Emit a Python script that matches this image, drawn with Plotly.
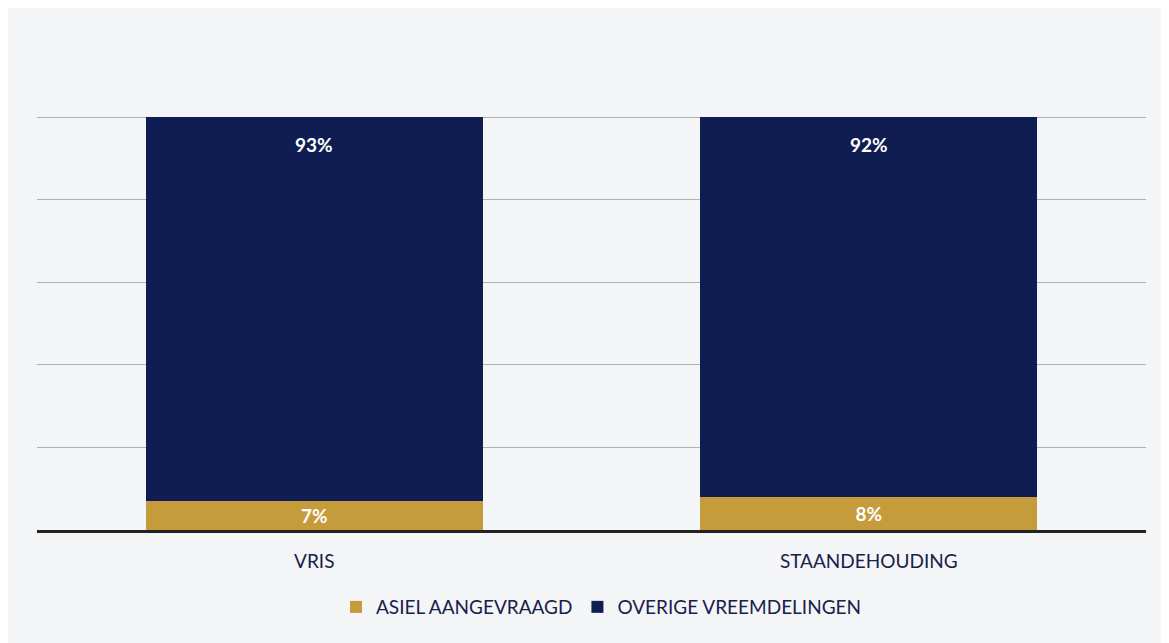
import plotly.graph_objects as go

categories = ["VRIS", "STAANDEHOUDING"]
asiel = [7, 8]
overige = [93, 92]
series_names = ["ASIEL AANGEVRAAGD", "OVERIGE VREEMDELINGEN"]

navy = "#101d52"
gold = "#c59b3b"
text_dark = "#18214a"
font_family = "Lato, 'Open Sans', sans-serif"

fig = go.Figure()
fig.add_trace(go.Bar(
    x=categories, y=asiel, name=series_names[0],
    marker=dict(color=gold, line=dict(width=0)),
    text=[f"{v}%" for v in asiel], textposition="inside",
    insidetextanchor="middle",
    textfont=dict(color="white", size=19, family=font_family, weight="bold"),
))
fig.add_trace(go.Bar(
    x=categories, y=overige, name=series_names[1],
    marker=dict(color=navy, line=dict(width=0)),
    textposition="none",
))

# labels for the navy segments, placed at the top of each stack
for c, a, o in zip(categories, asiel, overige):
    fig.add_annotation(
        x=c, y=a + o, text=f"{o}%", showarrow=False,
        yanchor="middle", yshift=-27,
        font=dict(color="white", size=19, family=font_family, weight="bold"),
    )

fig.update_layout(
    barmode="stack",
    bargap=0.392,
    width=1161, height=635,
    margin=dict(l=29, r=23, t=108, b=113),
    paper_bgcolor="#f4f5f7",
    plot_bgcolor="rgba(0,0,0,0)",
    font=dict(family=font_family, color=text_dark, size=19),
    showlegend=True,
    legend=dict(orientation="h", x=0.509, xanchor="center", y=-0.186, yanchor="middle",
                font=dict(size=19, color=text_dark), traceorder="normal",
                itemwidth=30, bgcolor="rgba(0,0,0,0)"),
)
fig.update_xaxes(showline=True, linecolor="#222222", linewidth=3,
                 tickfont=dict(size=19, color=text_dark), ticks="",
                 ticklabelstandoff=12)
fig.update_yaxes(range=[0, 100.3], tickvals=[0, 20, 40, 60, 80, 100], showticklabels=False,
                 showgrid=True, gridcolor="#b0b0b0", gridwidth=1,
                 zeroline=False)

fig.write_html("out.html")
